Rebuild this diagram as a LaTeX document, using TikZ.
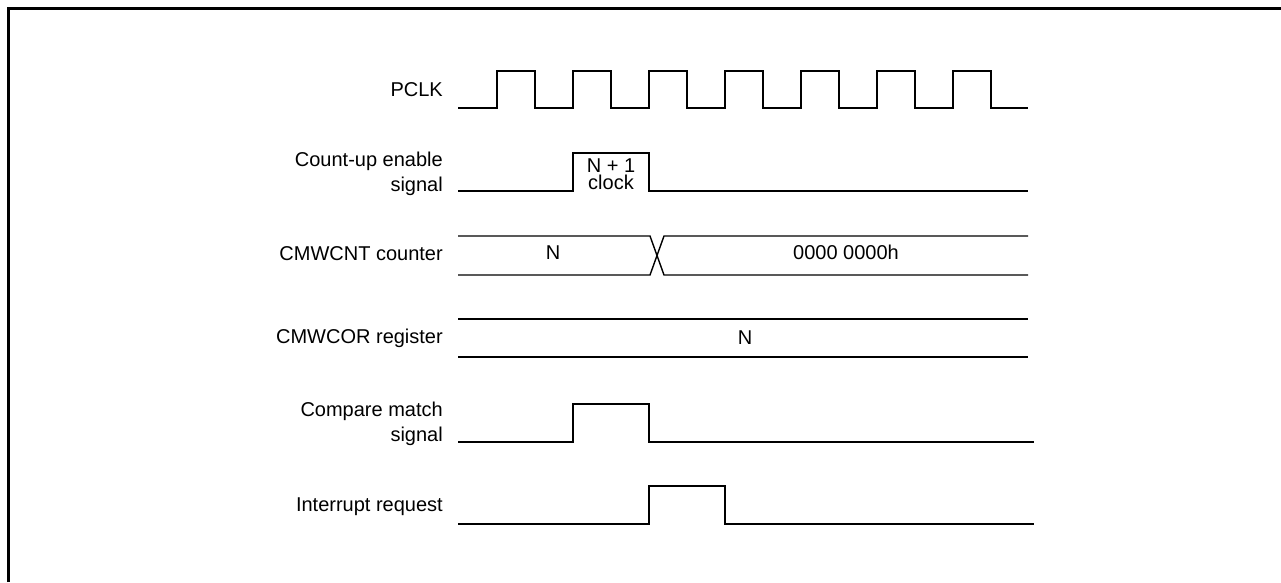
\documentclass[tikz,border=0pt]{standalone}
\usepackage{fontspec}
\setmainfont{Liberation Sans}
\begin{document}
\begin{tikzpicture}[x=1pt,y=-1pt,
  wave/.style={line width=1.4pt, line join=miter},
  frame/.style={line width=3pt},
  lbl/.style={anchor=east, font=\fontsize{20}{25}\selectfont, align=right, inner sep=0pt},
  val/.style={font=\fontsize{20}{16.7}\selectfont, inner sep=0pt, align=center}]
\useasboundingbox (0,0) rectangle (1281,582);
\draw[frame] (8,582) -- (8,8) -- (1281,8);

% labels
\node[lbl] (lpclk) at (443,90) {PCLK};
\node[lbl] (lcnt) at (443,174.3) {Count-up enable\\signal};
\node[lbl] (lcmwcnt) at (443,253.7) {CMWCNT counter};
\node[lbl] (lcmwcor) at (443,338.1) {CMWCOR register};
\node[lbl] (lcmp) at (443,424.3) {Compare match\\signal};
\node[lbl] (lirq) at (443,506.6) {Interrupt request};

% PCLK
\draw[wave] (458,108) foreach \i in {0,...,6} {
   -- ({497+76*\i},108) -- ({497+76*\i},71) -- ({535+76*\i},71) -- ({535+76*\i},108) } -- (1028,108);

% Count-up enable
\draw[wave] (458,191) -- (573,191) -- (573,153) -- (649,153) -- (649,191) -- (1028,191);
\node[val] (n1) at (611,174.5) {N + 1\\clock};

% CMWCNT
\draw[wave] (458,236) -- (650,236) -- (664,275) -- (1028,275);
\draw[wave] (458,275) -- (650,275) -- (664,236) -- (1028,236);
\node[val] (vn) at (553,252.8) {N};
\node[val] (vz) at (846,252.7) {0000 0000h};

% CMWCOR
\draw[wave] (458,319) -- (1028,319);
\draw[wave] (458,357) -- (1028,357);
\node[val] (vcor) at (745,337.8) {N};

% Compare match
\draw[wave] (458,442) -- (573,442) -- (573,404) -- (649,404) -- (649,442) -- (1034,442);

% Interrupt request
\draw[wave] (458,524) -- (649,524) -- (649,486) -- (725,486) -- (725,524) -- (1034,524);
\end{tikzpicture}
\end{document}
